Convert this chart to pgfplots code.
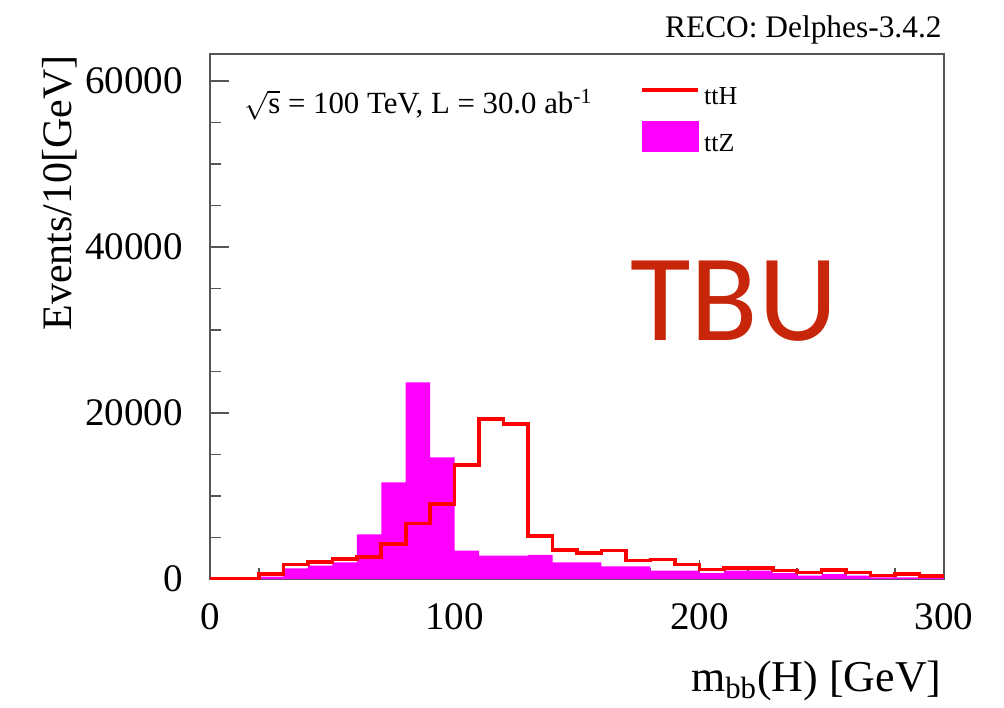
\documentclass[border=0pt]{standalone}
\usepackage{pgfplots}
\usepackage{pgfplotstable}
\pgfplotsset{compat=1.18}
\usepackage{fontspec}
\setmainfont{Liberation Serif}
\newfontfamily\tbufont{Carlito}

\definecolor{tthred}{RGB}{255,0,0}
\definecolor{ttzmag}{RGB}{255,0,255}
\definecolor{framegray}{RGB}{85,85,85}
\definecolor{tbured}{RGB}{200,38,10}

% m_bb(H) histograms, 10 GeV bins (lower bin edge; last row closes the range)
\pgfplotstableread{
lo   tth    ttz
0    0      0
10   0      0
20   600    300
30   1750   1270
40   2050   1600
50   2410   2000
60   2650   5380
70   4200   11650
80   6700   23700
90   9040   14660
100  13730  3410
110  19280  2810
120  18670  2810
130  5180   2900
140  3530   2010
150  3150   2010
160  3450   1530
170  2210   1530
180  2350   1000
190  1730   1000
200  1150   720
210  1350   1000
220  1350   1000
230  1030   720
240  800    400
250  1100   600
260  800    400
270  400    200
280  580    200
290  330    120
300  330    120
}\mbbhist

\begin{document}
\begin{tikzpicture}
\useasboundingbox (-105pt,-64pt) rectangle (397pt,289.5pt);
\begin{axis}[
  at={(0,0)}, anchor=south west,
  scale only axis, width=367pt, height=262.5pt,
  xmin=0, xmax=300, ymin=0, ymax=63250,
  axis line style={framegray, line width=0.8pt},
  tick style={framegray, line width=0.8pt},
  tick align=inside,
  xtick pos=bottom, ytick pos=left,
  xtick={0,100,200,300}, minor x tick num=4,
  ytick={0,20000,40000,60000}, minor y tick num=3,
  major tick length=9.5pt, minor tick length=5.5pt,
  scaled y ticks=false,
  /pgf/number format/.cd, fixed, 1000 sep={}, assume math mode=true,
  /pgfplots/.cd,
  tick label style={font=\fontsize{19.5}{23}\selectfont, text=black},
  yticklabel style={inner sep=0pt, anchor=east, xshift=-13.5pt},
  xticklabel style={inner sep=0pt, anchor=north, yshift=-12pt},
  legend style={draw=none, fill=none, at={(0.586,0.945)}, anchor=north west,
    font=\fontsize{13}{15}\selectfont, row sep=5pt, inner sep=0pt,
    cells={anchor=west}},
  legend cell align=left,
]
  % legend samples first so that ttH is listed on top
  \addlegendimage{legend image code/.code={
    \draw[tthred, line width=1.8pt] (0pt,3.5pt) -- (28pt,3.5pt);}}
  \addlegendentry{ttH}
  \addlegendimage{legend image code/.code={
    \fill[ttzmag] (0pt,-3.5pt) rectangle (28pt,11.5pt);}}
  \addlegendentry{ttZ}

  % ttZ: filled histogram
  \addplot[ybar interval, fill=ttzmag, draw=none, forget plot]
    table[x=lo, y=ttz] {\mbbhist};
  % ttH: outline histogram
  \addplot[const plot, draw=tthred, line width=1.8pt, forget plot]
    table[x=lo, y=tth] {\mbbhist};
\end{axis}

% axis titles and annotations
\node[rotate=90, anchor=base east, inner sep=0pt,
      font=\fontsize{21}{25}\selectfont] at (-69pt,262pt) {Events/10[GeV]};
\node[anchor=base east, inner sep=0pt,
      font=\fontsize{22}{26}\selectfont] at (366pt,-56pt)
      {m\textsubscript{bb}(H) [GeV]};
\node[anchor=base east, inner sep=0pt,
      font=\fontsize{15.7}{18}\selectfont] at (366pt,270.75pt)
      {RECO: Delphes-3.4.2};
\node[anchor=base west, inner sep=0pt,
      font=\fontsize{15.4}{18}\selectfont] at (17pt,232.5pt)
      {$\sqrt{\hbox{s}}$ = 100 TeV, L = 30.0 ab\textsuperscript{-1}};
\node[anchor=base west, inner sep=0pt, text=tbured,
      font=\tbufont\fontsize{62}{72}\selectfont] at (210pt,119.5pt) {TBU};
\end{tikzpicture}
\end{document}
